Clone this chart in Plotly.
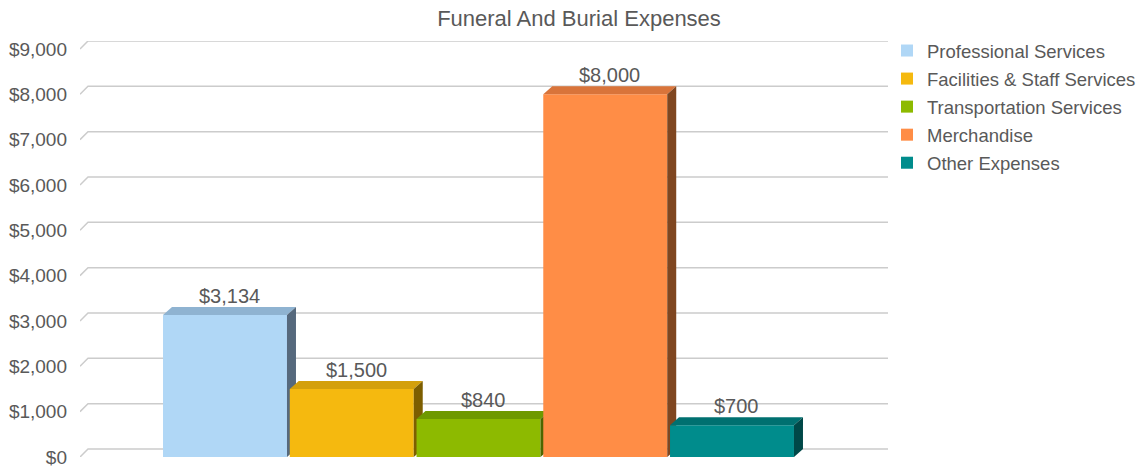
import plotly.graph_objects as go

# ---- data ----
title = "Funeral And Burial Expenses"
series = ["Professional Services", "Facilities & Staff Services", "Transportation Services",
          "Merchandise", "Other Expenses"]
values = [3134, 1500, 840, 8000, 700]
labels = ["$3,134", "$1,500", "$840", "$8,000", "$700"]
tick_vals = [0, 1000, 2000, 3000, 4000, 5000, 6000, 7000, 8000, 9000]
tick_text = ["$0", "$1,000", "$2,000", "$3,000", "$4,000", "$5,000", "$6,000", "$7,000", "$8,000", "$9,000"]

# ---- styles ----
front_colors = ["#b0d7f6", "#f5b90f", "#8dba00", "#ff8d46", "#008c8c"]
top_colors = ["#8fb3d1", "#d4a00c", "#6e9900", "#d9743a", "#007070"]
side_colors = ["#56697d", "#7d5e00", "#4d6600", "#7f4620", "#004848"]
FONT = "Liberation Sans, Arial, sans-serif"
TEXT = "#595959"

W, H = 1141, 470
ML, MR, MT, MB = 80, 253, 41, 13
PX_PER_X = 126.75
PLOT_W = W - ML - MR
PLOT_H = H - MT - MB
Y_FRONT_SPAN = 408.0           # pixels from 0 to 9000 on front face
Y_TOP = 9000
px_per_y = Y_FRONT_SPAN / Y_TOP
x_min = -1.144
x_max = x_min + PLOT_W / PX_PER_X
y_max = PLOT_H / px_per_y

BAR_W = 0.978
DX = 9 / PX_PER_X
DY = 8 / px_per_y
GDX = 8 / PX_PER_X
GDY = 8 / px_per_y

fig = go.Figure()

# gridlines on the back wall with diagonal at the left
shapes = []
for v in tick_vals:
    shapes.append(dict(
        type="path", xref="x", yref="y", layer="below",
        path=f"M {x_min},{v} L {x_min + GDX},{v + GDY} L {x_max},{v + GDY}",
        line=dict(color="#cccccc", width=1.5)))

# 3D bars as polygons (front, top, side), drawn in order
for i, (name, v) in enumerate(zip(series, values)):
    x0 = i - BAR_W / 2
    x1 = i + BAR_W / 2
    fig.add_trace(go.Scatter(
        x=[x0, x1, x1, x0, x0], y=[0, 0, v, v, 0], fill="toself", mode="lines",
        line=dict(width=0), fillcolor=front_colors[i], showlegend=False, hoverinfo="skip"))
    fig.add_trace(go.Scatter(
        x=[x0, x1, x1 + DX, x0 + DX, x0], y=[v, v, v + DY, v + DY, v], fill="toself", mode="lines",
        line=dict(width=0), fillcolor=top_colors[i], showlegend=False, hoverinfo="skip"))
    fig.add_trace(go.Scatter(
        x=[x1, x1 + DX, x1 + DX, x1, x1], y=[0, DY, v + DY, v, 0], fill="toself", mode="lines",
        line=dict(width=0), fillcolor=side_colors[i], showlegend=False, hoverinfo="skip"))

# legend entries
for i, name in enumerate(series):
    fig.add_trace(go.Bar(x=[None], y=[None], name=name, marker=dict(color=front_colors[i], line=dict(width=0)),
                         legendgroup=name))

annotations = []
for i, (v, t) in enumerate(zip(values, labels)):
    annotations.append(dict(x=i + DX / 2, y=v + DY, xref="x", yref="y", text=t, showarrow=False,
                            yanchor="bottom", xanchor="center", yshift=-2,
                            font=dict(family=FONT, size=20, color=TEXT)))

fig.update_layout(
    width=W, height=H,
    margin=dict(l=ML, r=MR, t=MT, b=MB, pad=0, autoexpand=False),
    paper_bgcolor="white", plot_bgcolor="rgba(0,0,0,0)",
    title=dict(text=title, x=579 / W, xref="container", xanchor="center",
               y=1 - 18 / H, yref="container", yanchor="middle",
               font=dict(family=FONT, size=22, color=TEXT)),
    xaxis=dict(range=[x_min, x_max], visible=False, fixedrange=True),
    yaxis=dict(range=[0, y_max], tickvals=tick_vals, ticktext=tick_text, showgrid=False,
               zeroline=False, showline=False, ticks="", ticklabelstandoff=12,
               tickfont=dict(family=FONT, size=19, color=TEXT), fixedrange=True),
    legend=dict(x=(887 - ML) / PLOT_W, xanchor="left", y=1 + (MT - 32) / PLOT_H, yanchor="top",
                font=dict(family=FONT, size=18.5, color=TEXT), tracegroupgap=1,
                traceorder="grouped", bgcolor="rgba(0,0,0,0)"),
    shapes=shapes,
    annotations=annotations,
    showlegend=True,
)

fig.write_html("out.html", config={"displayModeBar": False},
               post_script="document.body.style.margin='0';document.body.style.overflow='hidden';")
